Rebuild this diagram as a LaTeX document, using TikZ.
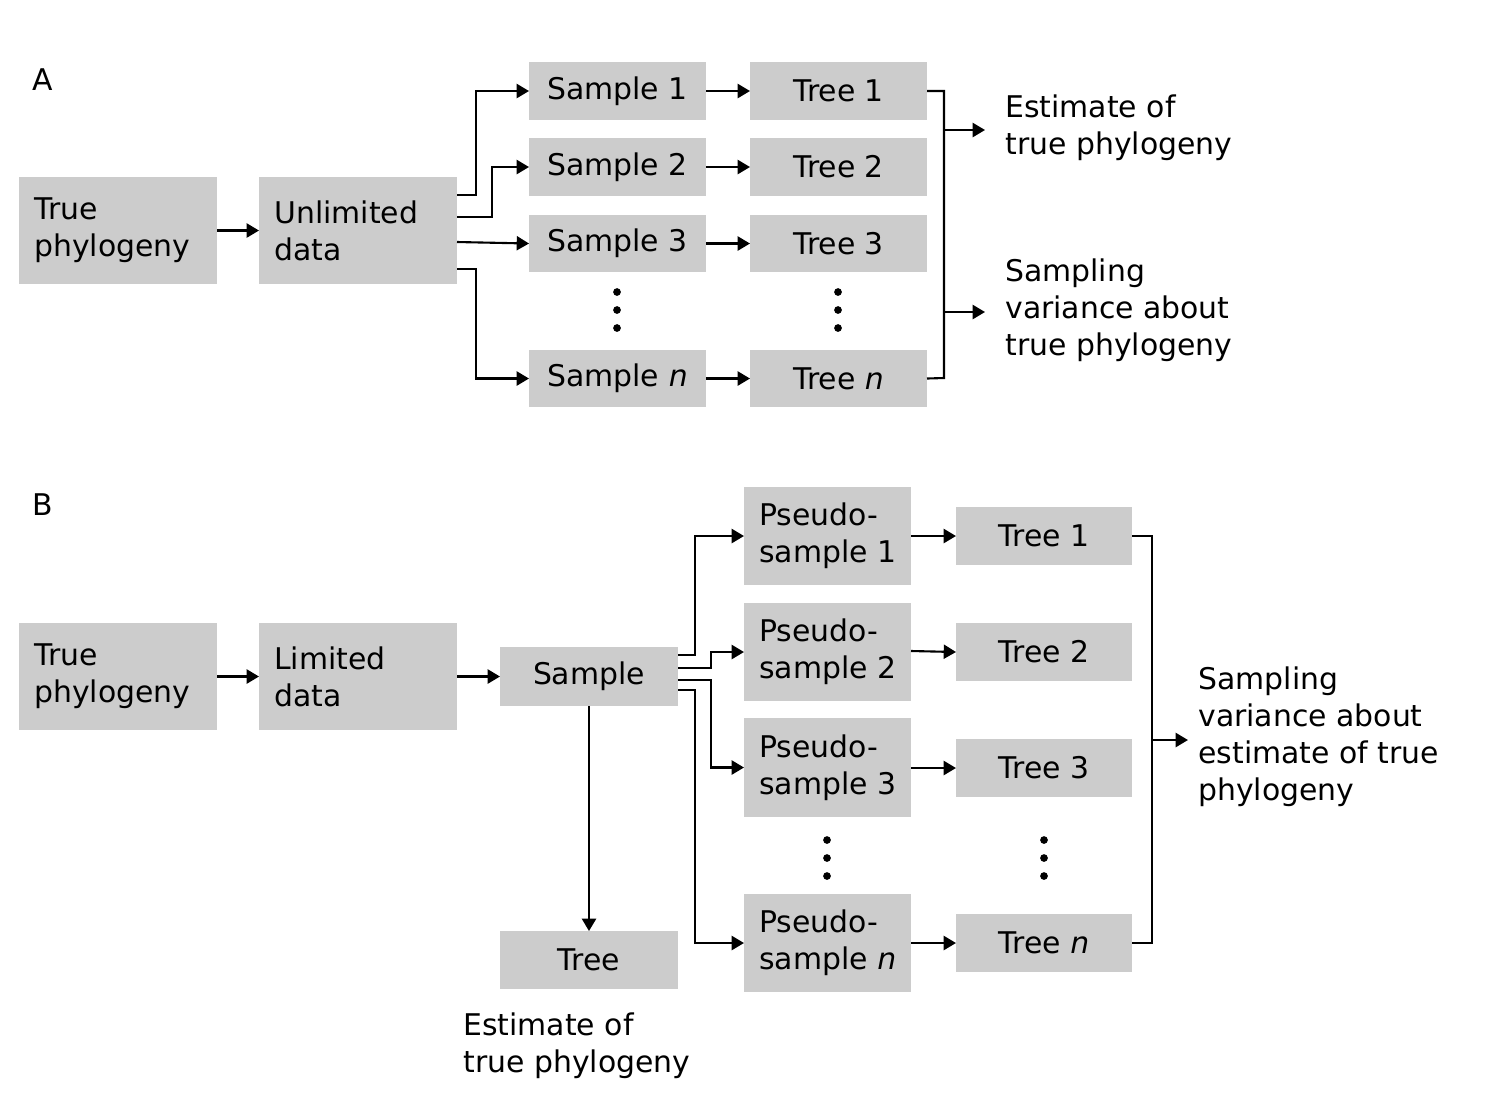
\documentclass[tikz,border=0pt]{standalone}
\usepackage{fontspec}
\setmainfont{DejaVu Sans}
\usetikzlibrary{arrows.meta}
\begin{document}
\begin{tikzpicture}[x=0.02cm,y=-0.02cm,
 box/.style={fill=black!20,inner sep=0pt},
 lbl/.style={font=\fontsize{17}{21}\selectfont,align=left,inner sep=0pt},
 ar/.style={-{Triangle[length=7pt,width=8pt]},line width=1.2pt},
 ln/.style={line width=1.2pt}]
\useasboundingbox (0,0) rectangle (1501,1100);
\tikzset{bx/.style args={#1,#2,#3,#4}{}}
\newcommand{\bx}[6]{\fill[black!20] (#2,#3) rectangle (#4,#5); \node[lbl,anchor=west] (#1) at (#2+15,{(#3+#5)/2}) {#6}; \coordinate (#1e) at (#4,{(#3+#5)/2}); \coordinate (#1w) at (#2,{(#3+#5)/2});}
\newcommand{\cbx}[6]{\fill[black!20] (#2,#3) rectangle (#4,#5); \node[lbl] (#1) at ({(#2+#4)/2},{(#3+#5)/2}) {#6}; \coordinate (#1e) at (#4,{(#3+#5)/2}); \coordinate (#1w) at (#2,{(#3+#5)/2});}
\node[lbl] (A) at (43,80) {A};
\node[lbl] (B) at (43,505) {B};
% A
\bx{tp}{19}{177}{217}{284}{True\\phylogeny}
\bx{ud}{259}{177}{457}{284}{Unlimited\\data}
\cbx{s1}{529}{62}{706}{120}{Sample 1}
\cbx{s2}{529}{138}{706}{196}{Sample 2}
\cbx{s3}{529}{215}{706}{272}{Sample 3}
\cbx{sn}{529}{350}{706}{407}{Sample \textit{n}}
\cbx{t1}{750}{62}{927}{120}{Tree 1}
\cbx{t2}{750}{138}{927}{196}{Tree 2}
\cbx{t3}{750}{215}{927}{272}{Tree 3}
\cbx{tn}{750}{350}{927}{407}{Tree \textit{n}}
\foreach \x in {617,838} \foreach \y in {292,310,328} \fill (\x,\y) circle (2.2pt);
\draw[ar] (tpe) -- (udw);
\draw[ar] (457,195) -- (476,195) |- (s1w);
\draw[ar] (457,217) -- (492,217) |- (s2w);
\draw[ar] (457,242) -- (s3w);
\draw[ar] (457,269) -- (476,269) |- (snw);
\foreach \i in {1,2,3,n} \draw[ar] (s\i e) -- (t\i w);
\draw[ln] (t1e) -- (944,91) -- (944,378) -- (tne);
\coordinate (ea) at (985,130); \coordinate (va) at (985,312);
\draw[ar] (944,130) -- (ea);
\draw[ar] (944,312) -- (va);
\node[lbl,anchor=west] (etp) at (1005,128) {Estimate of\\true phylogeny};
\node[lbl,anchor=west] (sv) at (1005,310) {Sampling\\variance about\\true phylogeny};
% B
\bx{btp}{19}{623}{217}{730}{True\\phylogeny}
\bx{ld}{259}{623}{457}{730}{\hspace*{0pt}Limited\\data}
\cbx{sm}{500}{647}{678}{706}{Sample}
\cbx{tr}{500}{931}{678}{989}{Tree}
\bx{p1}{744}{487}{911}{585}{Pseudo-\\sample 1}
\bx{p2}{744}{603}{911}{701}{Pseudo-\\sample 2}
\bx{p3}{744}{718}{911}{817}{Pseudo-\\sample 3}
\bx{pn}{744}{894}{911}{992}{Pseudo-\\sample \textit{n}}
\cbx{u1}{956}{507}{1132}{565}{Tree 1}
\cbx{u2}{956}{623}{1132}{681}{Tree 2}
\cbx{u3}{956}{739}{1132}{797}{Tree 3}
\cbx{un}{956}{914}{1132}{972}{Tree \textit{n}}
\foreach \y in {840,858,876} {\fill (827,\y) circle (2.2pt); \fill (1044,\y) circle (2.2pt);}
\draw[ar] (btpe) -- (ldw);
\draw[ar] (lde) -- (smw);
\draw[ar] (589,706) -- (589,931);
\node[lbl,anchor=west] (etb) at (463,1046) {Estimate of\\true phylogeny};
\draw[ar] (678,655) -- (695,655) |- (p1w);
\draw[ar] (678,668) -- (711,668) |- (p2w);
\draw[ar] (678,680) -- (711,680) |- (p3w);
\draw[ar] (678,690) -- (695,690) |- (pnw);
\draw[ar] (911,536) -- (u1w);
\draw[ar] (911,651) -- (u2w);
\draw[ar] (911,768) -- (u3w);
\draw[ar] (911,943) -- (unw);
\draw[ln] (u1e) -- (1152,536) -- (1152,943) -- (une);
\coordinate (vb) at (1188,740);
\draw[ar] (1152,740) -- (vb);
\node[lbl,anchor=west] (svb) at (1198,737) {Sampling\\variance about\\estimate of true\\phylogeny};
\end{tikzpicture}
\end{document}
